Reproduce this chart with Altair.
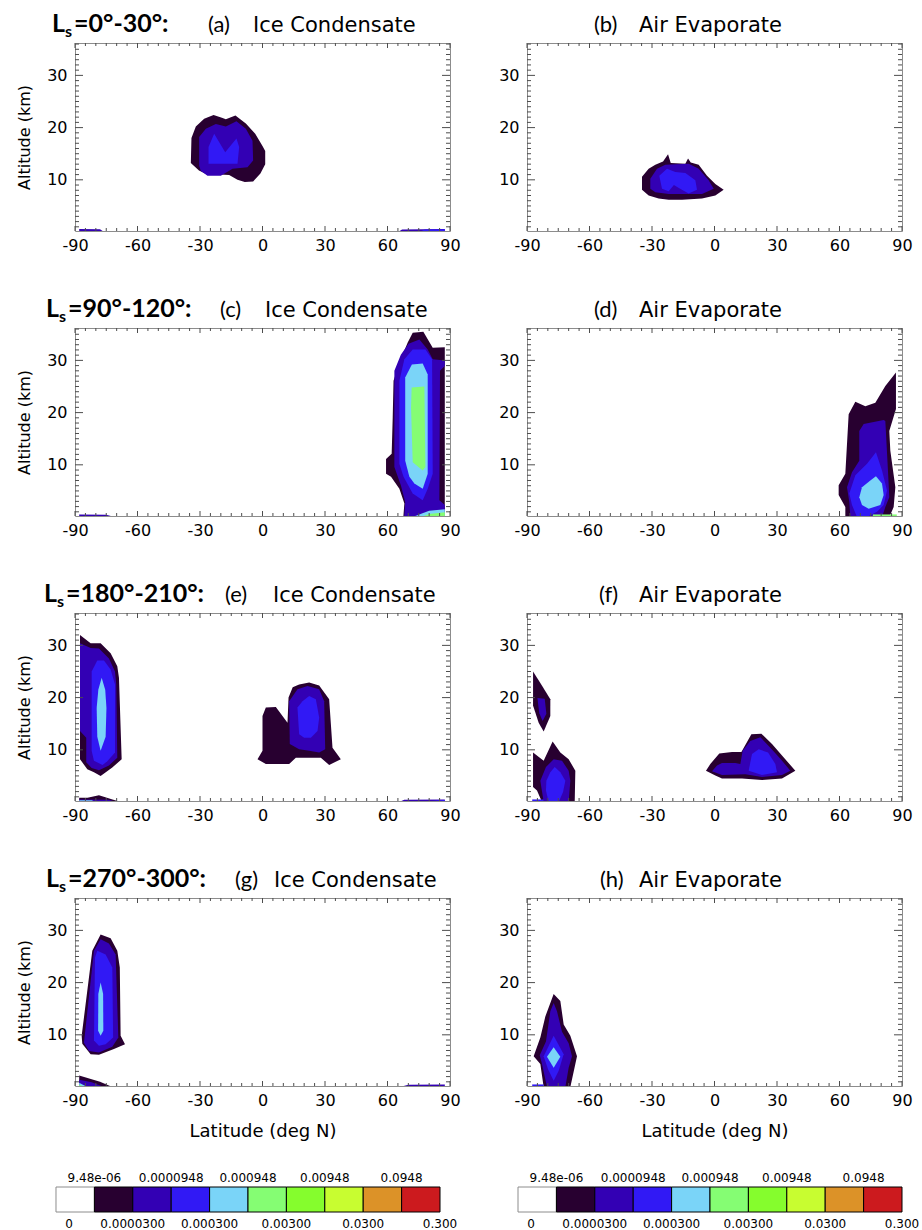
import altair as alt
import pandas as pd

# Colours of the ten contour bands, lowest (white) to highest (red)
LEVEL_COLORS = ["#ffffff", "#280030", "#3300b4", "#3119f5", "#7ad4f8",
                "#85fd73", "#85fd2d", "#c8fd30", "#dc9228", "#cc1a1e"]
BAR_UPPER = ["9.48e-06", "0.0000948", "0.000948", "0.00948", "0.0948"]
BAR_LOWER = ["0", "0.0000300", "0.000300", "0.00300", "0.0300", "0.300"]

LAT_MAJOR = [-90, -60, -30, 0, 30, 60, 90]
LAT_MINOR = [-85, -80, -75, -70, -65, -55, -50, -45, -40, -35, -25, -20, -15,
             -10, -5, 5, 10, 15, 20, 25, 35, 40, 45, 50, 55, 65, 70, 75, 80, 85]
ALT_MAJOR = [10, 20, 30]
ALT_MINOR = [1, 2, 3, 4, 5, 6, 7, 8, 9, 11, 12, 13, 14, 15, 16, 17, 18, 19,
             21, 22, 23, 24, 25, 26, 27, 28, 29, 31, 32, 33, 34, 35, 36]

SEASONS = ["0°-30°", "90°-120°", "180°-210°", "270°-300°"]

# Filled contour regions: (band level, [(latitude, altitude km), ...])
PANEL_A = [
    (1, [(-34.4, 13.2), (-34.1, 18.0), (-32.0, 20.2), (-28.0, 21.7), (-23.5, 22.4),
         (-19.5, 21.9), (-17.6, 21.6), (-13.0, 22.3), (-8.0, 20.8), (-3.5, 18.8),
         (0.0, 16.5), (1.3, 15.5), (1.3, 13.0), (-1.0, 11.2), (-4.5, 9.7), (-8.5, 9.6),
         (-12.0, 10.0), (-16.0, 10.9), (-20.5, 11.0), (-27.0, 11.1), (-30.5, 11.8)]),
    (2, [(-30.4, 12.7), (-30.4, 18.2), (-27.2, 19.8), (-22.4, 20.7), (-17.6, 20.2),
         (-12.5, 21.2), (-8.0, 19.8), (-4.8, 17.5), (-4.5, 13.7), (-7.2, 12.4),
         (-14.4, 12.1), (-20.0, 10.8), (-26.4, 10.8), (-29.6, 11.7)]),
    (3, [(-25.9, 13.1), (-25.9, 16.3), (-23.2, 18.8), (-17.9, 15.3), (-12.5, 17.9),
         (-11.2, 16.3), (-12.0, 13.1)]),
    (2, [(-88.0, 0.0), (-76.0, 0.0), (-78.0, 0.55), (-88.0, 0.6)]),
    (2, [(65.0, 0.0), (87.5, 0.0), (87.5, 0.6), (67.0, 0.5)]),
    (3, [(75.0, 0.0), (87.5, 0.0), (87.5, 0.55), (78.0, 0.5)]),
]

PANEL_B = [
    (1, [(-34.8, 8.1), (-34.8, 10.6), (-31.6, 12.1), (-28.4, 12.9), (-24.7, 13.5),
         (-22.3, 14.9), (-21.0, 13.2), (-14.0, 13.1), (-12.7, 14.1), (-11.4, 13.3),
         (-7.6, 12.9), (-3.6, 10.8), (0.4, 9.2), (4.4, 8.1), (0.4, 7.0), (-6.0, 6.4),
         (-15.6, 6.2), (-22.0, 6.2), (-26.8, 6.4), (-31.6, 7.0)]),
    (2, [(-30.8, 8.3), (-30.8, 10.2), (-27.6, 12.1), (-23.6, 12.9), (-12.4, 13.1),
         (-7.6, 12.1), (-2.8, 9.9), (-0.4, 8.3), (-6.0, 7.3), (-22.0, 7.3), (-28.4, 7.6)]),
    (3, [(-26.5, 10.8), (-22.8, 12.1), (-18.8, 11.5), (-14.0, 11.3), (-9.2, 9.9),
         (-8.4, 8.1), (-12.4, 7.4), (-16.5, 8.3), (-19.5, 9.0), (-22.0, 7.8), (-25.2, 8.3)]),
]

PANEL_C = [
    (1, [(67.6, 0.0), (68.1, 2.6), (65.7, 5.4), (61.7, 7.7), (59.3, 8.3), (59.3, 11.1),
         (62.0, 12.1), (62.5, 19.0), (62.9, 26.1), (65.7, 29.6), (69.7, 33.4), (72.1, 35.3),
         (77.2, 35.5), (81.7, 32.4), (87.5, 32.5), (87.5, 0.0)]),
    (2, [(68.0, 0.0), (68.5, 2.9), (66.4, 6.1), (63.3, 9.6), (63.3, 28.0), (66.4, 31.1),
         (70.1, 33.2), (75.3, 34.0), (79.3, 32.1), (81.7, 30.2), (87.5, 30.0), (87.5, 28.9),
         (85.2, 28.0), (84.9, 3.2), (87.5, 2.3), (87.5, 0.0)]),
    (3, [(67.7, 7.7), (65.7, 10.2), (65.7, 26.1), (68.1, 30.2), (72.1, 32.1), (78.2, 32.1),
         (81.4, 30.2), (81.7, 8.3), (79.3, 5.4), (76.9, 3.2), (72.1, 4.5)]),
    (4, [(70.5, 7.7), (68.5, 10.8), (68.5, 26.7), (71.7, 29.2), (76.9, 29.4), (79.3, 27.3),
         (79.3, 8.3), (76.9, 5.4), (72.9, 6.4)]),
    (5, [(72.1, 10.5), (71.3, 21.0), (71.6, 24.8), (77.7, 25.0), (78.2, 9.6), (76.9, 8.9)]),
    (2, [(-88.0, 0.0), (-71.0, 0.0), (-75.0, 0.45), (-88.0, 0.5)]),
    (4, [(72.0, 0.0), (87.5, 0.0), (87.5, 1.5), (80.0, 1.2)]),
    (5, [(76.0, 0.0), (87.5, 0.0), (87.5, 0.9), (80.0, 0.6)]),
]

PANEL_D = [
    (1, [(62.8, 0.0), (62.8, 1.9), (59.6, 4.2), (59.6, 6.1), (62.8, 8.3), (64.4, 19.7),
         (67.6, 22.1), (72.4, 21.2), (77.2, 21.9), (82.0, 25.1), (87.1, 27.7), (87.1, 20.7),
         (83.9, 16.5), (84.4, 12.7), (86.8, 5.7), (86.0, 1.9), (83.9, 0.0)]),
    (2, [(65.2, 0.0), (64.7, 2.9), (63.6, 5.7), (66.0, 8.6), (69.5, 10.8), (69.5, 16.5),
         (71.6, 17.8), (81.2, 18.6), (82.0, 18.4), (83.3, 8.6), (83.9, 3.8), (82.0, 1.9),
         (80.4, 0.0)]),
    (3, [(64.7, 4.5), (67.6, 8.0), (73.2, 10.2), (77.5, 12.4), (80.4, 8.9), (82.8, 5.1),
         (81.2, 2.3), (78.0, 1.0), (73.2, 0.0), (68.4, 0.0), (66.0, 2.3)]),
    (4, [(69.5, 3.8), (70.8, 5.7), (74.8, 7.0), (77.5, 7.8), (80.4, 6.4), (81.2, 4.2),
         (79.6, 2.3), (74.0, 1.6), (70.8, 2.3)]),
    (5, [(76.0, 0.0), (87.5, 0.0), (87.5, 0.5), (76.0, 0.5)]),
]

PANEL_E = [
    (1, [(-87.6, 32.0), (-82.5, 30.4), (-77.7, 30.4), (-72.9, 28.5), (-69.7, 26.0),
         (-68.9, 23.8), (-67.6, 8.2), (-72.1, 6.6), (-77.7, 5.0), (-80.9, 5.7),
         (-84.1, 6.3), (-87.6, 8.2)]),
    (2, [(-87.6, 30.4), (-82.5, 29.5), (-78.5, 29.4), (-73.7, 27.5), (-70.8, 25.0),
         (-70.2, 22.5), (-69.7, 8.5), (-73.7, 7.0), (-78.5, 6.1), (-82.0, 6.5),
         (-84.6, 7.6), (-84.6, 12.3), (-87.6, 13.6)]),
    (3, [(-82.0, 9.8), (-82.0, 25.0), (-79.3, 27.1), (-76.1, 27.1), (-72.9, 25.4),
         (-70.8, 22.5), (-70.8, 9.5), (-74.5, 7.8), (-76.8, 7.1), (-80.9, 7.9)]),
    (4, [(-77.2, 23.8), (-75.5, 21.5), (-74.9, 18.0), (-75.3, 12.5), (-77.7, 9.8),
         (-79.3, 12.5), (-79.6, 18.0), (-78.8, 21.5)]),
    (1, [(-2.4, 8.2), (0.0, 9.8), (0.0, 16.5), (1.6, 18.1), (6.4, 18.2), (12.0, 15.2),
         (12.5, 20.0), (14.5, 22.0), (17.6, 22.5), (22.4, 22.9), (27.2, 22.3), (32.0, 19.7),
         (33.6, 10.4), (37.6, 8.2), (32.0, 7.1), (28.0, 8.5), (16.0, 8.5), (12.8, 7.3),
         (1.6, 7.3)]),
    (2, [(13.1, 11.1), (12.8, 19.3), (16.8, 21.6), (21.6, 22.2), (27.2, 21.6), (29.6, 19.3),
         (30.1, 10.1), (27.2, 9.5), (22.4, 9.8), (17.6, 10.1)]),
    (3, [(17.6, 13.0), (16.8, 18.1), (19.2, 19.3), (22.4, 20.3), (25.6, 19.7), (27.2, 16.2),
         (26.4, 13.6), (23.2, 12.3), (20.0, 12.3)]),
    (1, [(-88.0, 0.0), (-68.0, 0.0), (-72.0, 0.5), (-78.5, 1.3), (-84.0, 0.8), (-88.0, 0.8)]),
    (2, [(-88.0, 0.0), (-70.0, 0.0), (-74.0, 0.45), (-88.0, 0.5)]),
    (4, [(-88.0, 0.0), (-80.0, 0.0), (-82.0, 0.35), (-88.0, 0.35)]),
    (2, [(65.6, 0.0), (87.5, 0.0), (87.5, 0.5), (68.0, 0.45)]),
    (3, [(75.0, 0.0), (87.5, 0.0), (87.5, 0.4)]),
]

PANEL_F = [
    (1, [(-87.1, 25.0), (-83.6, 22.8), (-78.8, 19.7), (-78.8, 16.5), (-82.0, 13.5),
         (-84.4, 15.2), (-87.1, 18.5)]),
    (2, [(-85.0, 19.9), (-81.5, 19.8), (-80.7, 16.9), (-82.5, 15.5), (-84.1, 17.0)]),
    (1, [(-87.1, 9.5), (-82.0, 7.9), (-77.7, 11.6), (-74.0, 9.5), (-70.0, 8.2), (-66.8, 6.0),
         (-67.1, 0.0), (-82.8, 0.0), (-85.2, 2.2), (-87.1, 2.9)]),
    (2, [(-83.6, 4.1), (-80.9, 6.7), (-77.2, 8.2), (-73.2, 7.9), (-70.0, 6.0), (-69.2, 4.1),
         (-70.0, 0.0), (-82.0, 0.0)]),
    (3, [(-80.7, 4.1), (-78.8, 5.7), (-76.7, 6.7), (-74.0, 5.7), (-71.6, 4.1), (-72.7, 1.9),
         (-74.8, 0.0), (-79.6, 0.0), (-80.9, 2.2)]),
    (3, [(-87.5, 0.0), (-82.0, 0.0), (-82.0, 0.5), (-87.5, 0.5)]),
    (1, [(-4.1, 6.0), (-2.0, 7.3), (2.3, 9.3), (8.4, 9.6), (12.9, 9.6), (17.7, 13.0),
         (22.5, 13.1), (27.6, 11.1), (32.4, 8.9), (38.8, 6.0), (32.4, 4.5), (22.8, 4.2),
         (13.2, 4.5), (3.6, 4.5), (0.4, 5.1)]),
    (2, [(-1.2, 5.9), (1.2, 7.0), (3.6, 7.5), (10.0, 7.5), (12.4, 7.3), (13.5, 9.8),
         (17.2, 11.7), (22.0, 12.4), (26.8, 10.4), (31.6, 8.3), (36.4, 6.0), (32.4, 5.2),
         (22.8, 4.8), (14.8, 5.3), (3.6, 5.2)]),
    (3, [(16.4, 6.0), (18.0, 9.2), (21.2, 10.1), (25.7, 9.5), (29.2, 7.3), (30.0, 5.7),
         (22.8, 5.2)]),
]

PANEL_G = [
    (1, [(-86.5, 8.3), (-86.8, 9.8), (-81.7, 26.1), (-77.7, 29.2), (-72.9, 28.5),
         (-69.7, 26.1), (-68.5, 22.9), (-68.1, 9.8), (-66.0, 8.2), (-71.3, 7.3),
         (-78.5, 6.2), (-82.5, 6.3)]),
    (2, [(-85.7, 8.5), (-80.9, 26.1), (-77.7, 28.3), (-73.7, 27.5), (-70.5, 25.4),
         (-69.2, 9.5), (-72.1, 7.7), (-78.5, 6.6), (-83.3, 6.9)]),
    (3, [(-80.9, 8.9), (-80.4, 24.8), (-79.3, 26.1), (-75.3, 25.4), (-72.1, 22.9),
         (-71.7, 9.5), (-75.3, 8.2), (-78.5, 7.9)]),
    (4, [(-77.7, 20.0), (-76.5, 17.8), (-76.4, 10.8), (-77.7, 9.8), (-78.9, 10.8),
         (-78.8, 17.8)]),
    (1, [(-88.0, 0.0), (-72.0, 0.0), (-78.0, 1.0), (-88.0, 2.2)]),
    (2, [(-88.0, 0.0), (-76.0, 0.0), (-82.0, 0.9), (-88.0, 1.4)]),
    (4, [(-88.0, 0.0), (-84.0, 0.0), (-88.0, 0.8)]),
    (5, [(-88.0, 0.0), (-85.0, 0.0), (-88.0, 0.45)]),
    (2, [(66.0, 0.0), (87.5, 0.0), (87.5, 0.5), (70.0, 0.45)]),
]

PANEL_H = [
    (1, [(-86.8, 5.9), (-83.6, 9.5), (-81.2, 13.5), (-77.2, 17.8), (-74.0, 16.5),
         (-72.4, 12.0), (-69.2, 9.8), (-66.0, 5.9), (-66.8, 4.4), (-69.2, 0.0),
         (-82.0, 0.0), (-83.6, 4.4)]),
    (2, [(-83.9, 6.1), (-80.9, 8.7), (-78.8, 14.5), (-77.2, 16.1), (-75.6, 14.5),
         (-73.2, 10.6), (-70.0, 8.4), (-68.4, 5.9), (-70.0, 3.7), (-71.6, 0.0),
         (-80.4, 0.0), (-82.8, 4.4)]),
    (3, [(-82.0, 5.9), (-77.2, 9.8), (-72.4, 6.3), (-74.8, 3.1), (-77.2, 1.2), (-79.9, 3.4)]),
    (4, [(-77.2, 7.6), (-74.0, 5.8), (-77.2, 3.7), (-80.4, 5.8)]),
    (3, [(-87.5, 0.0), (-82.0, 0.0), (-82.0, 0.5), (-87.5, 0.5)]),
]

W, H = 375, 188
FRAME = "#8c8c8c"
TICK = "#4d4d4d"
SANS = "DejaVu Sans"
X_SCALE = alt.Scale(domain=[-90, 90], nice=False, zero=False)
Y_SCALE = alt.Scale(domain=[0.2, 36.2], nice=False, zero=False)


def text_layer(s, x, y, **kw):
    return alt.Chart(pd.DataFrame({"t": [s]})).mark_text(
        align="left", baseline="alphabetic", color="black", **kw
    ).encode(text="t:N", x=alt.value(x), y=alt.value(y))


def tick_layer(vals, side, length, x_axis, y_axis):
    # inward tick marks drawn along the frame; they share the panel's axes
    c = alt.Chart(pd.DataFrame({"v": vals})).mark_rule(color=TICK, strokeWidth=1)
    if side in ("bottom", "top"):
        y0 = H if side == "bottom" else 0
        y1 = H - length if side == "bottom" else length
        return c.encode(x=alt.X("v:Q", scale=X_SCALE, axis=x_axis),
                        y=alt.value(y0), y2=alt.value(y1))
    x0 = 0 if side == "left" else W
    x1 = length if side == "left" else W - length
    return c.encode(y=alt.Y("v:Q", scale=Y_SCALE, axis=y_axis),
                    x=alt.value(x0), x2=alt.value(x1))


def panel(polys, heading, left_col, bottom_row, season=None, season_x=0):
    letter, name, letter_x, name_x = heading
    rows = []
    for pid, (lvl, pts) in enumerate(polys):
        for i, (la, al) in enumerate(pts):
            rows.append({"pid": pid, "level": lvl, "i": i, "lat": la, "alt": al})
    df = pd.DataFrame(rows)

    x_axis = alt.Axis(values=LAT_MAJOR, labelExpr="'' + datum.value",
                      title="Latitude (deg N)" if bottom_row else None)
    y_axis = alt.Axis(values=ALT_MAJOR,
                      title="Altitude (km)" if left_col else None)

    layers = []
    for lvl in sorted(df["level"].unique()):
        layers.append(
            alt.Chart(df)
            .transform_filter(alt.datum.level == int(lvl))
            .mark_line(fill=LEVEL_COLORS[int(lvl)], strokeWidth=0,
                       interpolate="linear-closed", clip=True)
            .encode(
                x=alt.X("lat:Q", scale=X_SCALE, axis=x_axis),
                y=alt.Y("alt:Q", scale=Y_SCALE, axis=y_axis),
                detail="pid:N",
                order="i:Q",
            )
        )

    layers += [
        tick_layer(LAT_MINOR, "bottom", 3, x_axis, y_axis),
        tick_layer(LAT_MAJOR, "bottom", 5, x_axis, y_axis),
        tick_layer(LAT_MINOR, "top", 3, x_axis, y_axis),
        tick_layer(LAT_MAJOR, "top", 5, x_axis, y_axis),
        tick_layer(ALT_MINOR, "left", 4, x_axis, y_axis),
        tick_layer(ALT_MAJOR, "left", 8, x_axis, y_axis),
        tick_layer(ALT_MINOR, "right", 4, x_axis, y_axis),
        tick_layer(ALT_MAJOR, "right", 8, x_axis, y_axis),
    ]

    layers.append(text_layer(letter, letter_x, -11, font="Lato", fontSize=22))
    layers.append(text_layer(name, name_x, -11, font=SANS, fontSize=21))
    if season is not None:
        layers.append(text_layer("L", season_x, -11, font="Lato", fontSize=25, fontWeight="bold"))
        layers.append(text_layer("s", season_x + 13, -6.5, font="Lato", fontSize=16, fontWeight="bold"))
        layers.append(text_layer("=" + season + ":", season_x + 22, -11,
                                 font="Lato", fontSize=25, fontWeight="bold"))

    return alt.layer(*layers).properties(width=W, height=H)


def colorbar(domain):
    n = len(LEVEL_COLORS)
    boxes = pd.DataFrame({
        "i": list(range(n)),
        "i2": list(range(1, n + 1)),
        "c": LEVEL_COLORS,
        "s": [FRAME] + ["black"] * (n - 1),
    })
    xs = alt.Scale(domain=domain, nice=False, zero=False)
    rect = alt.Chart(boxes).mark_rect(strokeWidth=1).encode(
        x=alt.X("i:Q", scale=xs, axis=None), x2="i2:Q",
        y=alt.value(4), y2=alt.value(29),
        fill=alt.Fill("c:N", scale=None), stroke=alt.Stroke("s:N", scale=None),
    )
    upper = alt.Chart(pd.DataFrame({"p": [1, 3, 5, 7, 9], "t": BAR_UPPER})).mark_text(
        font=SANS, fontSize=12, baseline="middle", color="black"
    ).encode(x=alt.X("p:Q", scale=xs, axis=None), y=alt.value(-5), text="t:N")
    lower = alt.Chart(pd.DataFrame({"p": [2, 4, 6, 8, 10], "t": BAR_LOWER[1:]})).mark_text(
        font=SANS, fontSize=12, baseline="middle", color="black"
    ).encode(x=alt.X("p:Q", scale=xs, axis=None), y=alt.value(41), text="t:N")
    zero = alt.Chart(pd.DataFrame({"p": [0], "t": BAR_LOWER[:1]})).mark_text(
        font=SANS, fontSize=12, baseline="middle", color="black", dx=13
    ).encode(x=alt.X("p:Q", scale=xs, axis=None), y=alt.value(41), text="t:N")
    return alt.layer(rect, upper, lower, zero).properties(
        width=W, height=29, view=alt.ViewBackground(stroke="transparent"))


charts = [
    panel(PANEL_A, ("(a)", "Ice Condensate", 133, 178), True, False, SEASONS[0], -23),
    panel(PANEL_B, ("(b)", "Air Evaporate", 67, 112), False, False),
    panel(PANEL_C, ("(c)", "Ice Condensate", 145, 190), True, False, SEASONS[1], -29),
    panel(PANEL_D, ("(d)", "Air Evaporate", 67, 112), False, False),
    panel(PANEL_E, ("(e)", "Ice Condensate", 150, 198), True, False, SEASONS[2], -31),
    panel(PANEL_F, ("(f)", "Air Evaporate", 72, 112), False, False),
    panel(PANEL_G, ("(g)", "Ice Condensate", 160, 199), True, True, SEASONS[3], -29),
    panel(PANEL_H, ("(h)", "Air Evaporate", 73, 112), False, True),
    colorbar([0.495, 10.26]),
    colorbar([0.234, 10.0]),
]

chart = (
    alt.concat(*charts, columns=2, spacing={"row": 97, "column": 77}, bounds="flush")
    .properties(padding={"left": 16, "top": 11, "right": 0, "bottom": 0})
    .configure_view(stroke=FRAME, strokeWidth=1)
    .configure_axis(grid=False, ticks=False, domain=False,
                    labelFont=SANS, labelFontSize=16, labelColor="black",
                    labelFlush=False, labelOverlap=False,
                    titleFont=SANS, titleFontWeight="normal", titleColor="black")
    .configure_axisX(labelPadding=6, titleFontSize=18, titlePadding=14)
    .configure_axisY(labelPadding=8, titleFontSize=16, titlePadding=14)
)

chart.save("out.html", embed_options={"renderer": "svg", "actions": False})
